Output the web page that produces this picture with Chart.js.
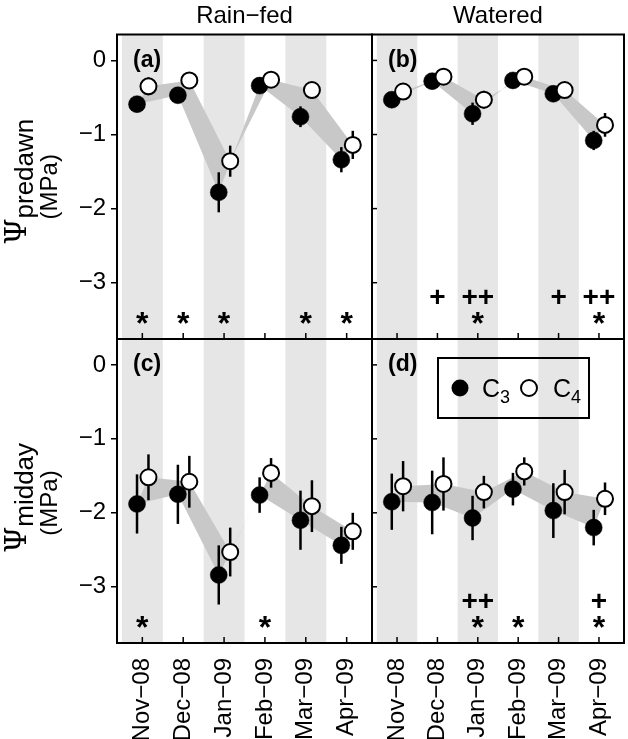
<!DOCTYPE html>
<html>
<head>
<meta charset="utf-8">
<script src="https://cdn.jsdelivr.net/npm/chart.js@4.4.1/dist/chart.umd.min.js"></script>
<style>
  html, body { margin: 0; padding: 0; background: #fff; }
  #wrap { position: relative; width: 628px; height: 739px; overflow: hidden; }
  #wrap canvas { position: absolute; }
</style>
</head>
<body>
<div id="wrap">
  <canvas id="panelA" width="377" height="344" style="left:0;top:0"></canvas>
  <canvas id="panelB" width="261" height="344" style="left:367px;top:0"></canvas>
  <canvas id="panelC" width="377" height="405" style="left:0;top:334px"></canvas>
  <canvas id="panelD" width="261" height="405" style="left:367px;top:334px"></canvas>
</div>
<script>
// === Data ===
const months = ["Nov−08", "Dec−08", "Jan−09", "Feb−09", "Mar−09", "Apr−09"];
const yTicks = [0, -1, -2, -3];
const shadedMonths = [0, 2, 4];

// (a) predawn, rain-fed
const predawnRainC3 = [-0.59, -0.47, -1.78, -0.34, -0.76, -1.34];
const predawnRainC3Err = [0.10, 0.10, 0.27, 0.05, 0.14, 0.17];
const predawnRainC4 = [-0.35, -0.27, -1.36, -0.26, -0.40, -1.14];
const predawnRainC4Err = [0.12, 0.05, 0.21, 0.05, 0.08, 0.19];
const predawnRainStar = ["*", "*", "*", "", "*", "*"];
const predawnRainPlus = ["", "", "", "", "", ""];

// (b) predawn, watered
const predawnWetC3 = [-0.53, -0.28, -0.72, -0.27, -0.45, -1.08];
const predawnWetC3Err = [0.09, 0.05, 0.15, 0.05, 0.08, 0.13];
const predawnWetC4 = [-0.42, -0.22, -0.53, -0.22, -0.40, -0.87];
const predawnWetC4Err = [0.09, 0.05, 0.12, 0.05, 0.05, 0.16];
const predawnWetStar = ["", "", "*", "", "", "*"];
const predawnWetPlus = ["", "+", "++", "", "+", "++"];

// (c) midday, rain-fed
const middayRainC3 = [-1.88, -1.75, -2.84, -1.76, -2.10, -2.44];
const middayRainC3Err = [0.40, 0.40, 0.40, 0.24, 0.40, 0.25];
const middayRainC4 = [-1.52, -1.58, -2.53, -1.46, -1.91, -2.25];
const middayRainC4Err = [0.31, 0.35, 0.33, 0.20, 0.35, 0.25];
const middayRainStar = ["*", "", "", "*", "", ""];
const middayRainPlus = ["", "", "", "", "", ""];

// (d) midday, watered
const middayWetC3 = [-1.85, -1.86, -2.07, -1.68, -1.97, -2.20];
const middayWetC3Err = [0.38, 0.43, 0.30, 0.22, 0.37, 0.24];
const middayWetC4 = [-1.64, -1.61, -1.72, -1.44, -1.72, -1.81];
const middayWetC4Err = [0.34, 0.36, 0.22, 0.19, 0.30, 0.22];
const middayWetStar = ["", "", "*", "*", "", "*"];
const middayWetPlus = ["", "", "++", "", "", "+"];

const FONT = "'Liberation Sans', Arial, Helvetica, sans-serif";
const SERIF = "'DejaVu Serif', 'Liberation Serif', serif";
const C3_SHIFT = -0.13;
const C4_SHIFT = 0.15;

Chart.defaults.font.family = FONT;
Chart.defaults.color = "#000";

// === Drawing helpers (plugin) ===
function drawSubText(ctx, x, y, main, sub, mainFont, subFont, drop) {
  ctx.font = mainFont;
  ctx.fillText(main, x, y);
  const w = ctx.measureText(main).width;
  ctx.font = subFont;
  ctx.fillText(sub, x + w, y + drop);
}

// scales must not push the plot area in: every panel has fixed edges
function noScalePadding(s) {
  s.paddingLeft = 0;
  s.paddingRight = 0;
  s.paddingTop = 0;
  s.paddingBottom = 0;
}

const panelDecor = {
  id: "panelDecor",
  beforeDatasetsDraw(chart, args, opts) {
    const { ctx, chartArea: a, scales: { x } } = chart;
    ctx.save();
    ctx.fillStyle = "#e6e6e6";
    shadedMonths.forEach((i) => {
      const l = Math.max(x.getPixelForValue(i - 0.5), a.left);
      const r = Math.min(x.getPixelForValue(i + 0.5), a.right);
      ctx.fillRect(l, a.top, r - l, a.bottom - a.top);
    });
    ctx.restore();
  },
  afterDatasetDraw(chart, args) {
    // error bars go on top of the grey ribbon, under the points
    if (args.index !== 2) return;
    const { ctx, scales: { x, y } } = chart;
    ctx.save();
    ctx.strokeStyle = "#000";
    ctx.lineWidth = 2.5;
    [0, 1].forEach((di) => {
      const ds = chart.data.datasets[di];
      ds.data.forEach((p, i) => {
        const px = x.getPixelForValue(p.x);
        ctx.beginPath();
        ctx.moveTo(px, y.getPixelForValue(p.y + ds.err[i]));
        ctx.lineTo(px, y.getPixelForValue(p.y - ds.err[i]));
        ctx.stroke();
      });
    });
    ctx.restore();
  },
  afterDraw(chart, args, opts) {
    const { ctx, chartArea: a, scales: { x, y } } = chart;
    ctx.save();
    ctx.strokeStyle = "#000";
    ctx.fillStyle = "#000";

    // inward ticks
    ctx.lineWidth = 1.5;
    months.forEach((m, i) => {
      const px = x.getPixelForValue(i);
      ctx.beginPath();
      ctx.moveTo(px, a.bottom);
      ctx.lineTo(px, a.bottom - 6);
      ctx.stroke();
    });
    if (!opts.yLabels) {
      yTicks.forEach((v) => {
        const py = y.getPixelForValue(v);
        ctx.beginPath();
        ctx.moveTo(a.left, py);
        ctx.lineTo(a.left + 5, py);
        ctx.stroke();
      });
    }

    // frame
    ctx.lineWidth = 2;
    ctx.strokeRect(a.left, a.top, a.right - a.left, a.bottom - a.top);

    // panel letter
    ctx.font = "bold 23px " + FONT;
    ctx.textAlign = "left";
    ctx.textBaseline = "middle";
    ctx.fillText(opts.letter, a.left + 16, a.top + 26);

    // significance marks
    ctx.textAlign = "center";
    ctx.textBaseline = "alphabetic";
    ctx.font = "bold 32px " + FONT;
    opts.star.forEach((s, i) => {
      if (!s) return;
      ctx.fillText(s, x.getPixelForValue(i), y.getPixelForValue(-3.45) + 18);
    });
    ctx.font = "bold 28px " + FONT;
    opts.plus.forEach((s, i) => {
      if (!s) return;
      ctx.fillText(s, x.getPixelForValue(i), y.getPixelForValue(-3.18) + 10);
    });

    // legend
    if (opts.legend) {
      const lx = a.left + 66, ly = a.top + 19;
      ctx.lineWidth = 2;
      ctx.strokeRect(lx, ly, 151, 60);
      ctx.beginPath();
      ctx.arc(lx + 22, ly + 30, 8.5, 0, Math.PI * 2);
      ctx.fill();
      ctx.beginPath();
      ctx.fillStyle = "#fff";
      ctx.arc(lx + 91, ly + 30, 8, 0, Math.PI * 2);
      ctx.fill();
      ctx.stroke();
      ctx.fillStyle = "#000";
      ctx.textAlign = "left";
      drawSubText(ctx, lx + 44, ly + 39, "C", "3", "25px " + FONT, "18px " + FONT, 6);
      drawSubText(ctx, lx + 115, ly + 39, "C", "4", "25px " + FONT, "18px " + FONT, 6);
    }

    // y title: Psi with subscript, then (MPa)
    if (opts.yTitle) {
      const cy = (a.top + a.bottom) / 2 + opts.yTitleShift;
      ctx.translate(0, cy);
      ctx.rotate(-Math.PI / 2);
      ctx.textAlign = "left";
      ctx.textBaseline = "alphabetic";
      ctx.font = "30px " + SERIF;
      const w1 = ctx.measureText("Ψ").width;
      ctx.font = "26px " + FONT;
      const w2 = ctx.measureText(opts.yTitle).width;
      drawSubText(ctx, -(w1 + w2) / 2 + 5, 26, "Ψ", opts.yTitle, "30px " + SERIF, "26px " + FONT, 7);
      ctx.font = "24px " + FONT;
      ctx.textAlign = "center";
      ctx.fillText("(MPa)", 0, 57);
    }
    ctx.restore();
  },
};

// === Panel builder ===
function makePanel(id, p) {
  const c3 = p.c3.map((v, i) => ({ x: i + C3_SHIFT, y: v }));
  const c4 = p.c4.map((v, i) => ({ x: i + C4_SHIFT, y: v }));
  const ribbon = c3.concat(c4.slice().reverse());

  new Chart(document.getElementById(id), {
    type: "line",
    data: {
      datasets: [
        {
          label: "C4",
          data: c4,
          err: p.c4Err,
          showLine: false,
          pointRadius: 8,
          pointHoverRadius: 8,
          pointBackgroundColor: "#fff",
          pointBorderColor: "#000",
          pointBorderWidth: 2,
        },
        {
          label: "C3",
          data: c3,
          err: p.c3Err,
          showLine: false,
          pointRadius: 8.5,
          pointHoverRadius: 8.5,
          pointBackgroundColor: "#000",
          pointBorderColor: "#000",
          pointBorderWidth: 0.5,
        },
        {
          label: "ribbon",
          data: ribbon,
          showLine: true,
          fill: "shape",
          tension: 0,
          borderWidth: 0,
          borderColor: "rgba(0,0,0,0)",
          backgroundColor: "#c8c8c8",
          pointRadius: 0,
          pointHoverRadius: 0,
        },
      ],
    },
    options: {
      responsive: false,
      animation: false,
      events: [],
      layout: { padding: p.padding, autoPadding: false },
      scales: {
        x: {
          type: "linear",
          min: -0.62,
          max: 5.62,
          display: p.xLabels,
          afterBuildTicks: (s) => { s.ticks = months.map((m, i) => ({ value: i })); },
          afterFit: (s) => {
            noScalePadding(s);
            if (p.xLabels) s.height = 96;
          },
          grid: { display: false },
          border: { display: false },
          ticks: {
            autoSkip: false,
            minRotation: 90,
            maxRotation: 90,
            padding: 7,
            font: { size: 24 },
            callback: (v) => months[v],
          },
        },
        y: {
          type: "linear",
          min: -3.76,
          max: 0.35,
          display: p.yLabels,
          afterBuildTicks: (s) => { s.ticks = yTicks.map((v) => ({ value: v })); },
          afterFit: (s) => {
            noScalePadding(s);
            if (p.yLabels) s.width = 117;
          },
          grid: { drawOnChartArea: false, drawTicks: true, tickLength: 6, color: "#000", lineWidth: 1.5 },
          border: { display: false },
          ticks: {
            padding: 5,
            font: { size: 24 },
            callback: (v) => (v === 0 ? "0" : "−" + Math.abs(v)),
          },
        },
      },
      plugins: {
        legend: { display: false },
        tooltip: { enabled: false },
        title: {
          display: !!p.title,
          text: p.title,
          fullSize: false,
          color: "#000",
          font: { size: 24, weight: "normal", lineHeight: 1.2 },
          padding: { top: 2, bottom: 3.7 },
        },
        panelDecor: {
          letter: p.letter,
          star: p.star,
          plus: p.plus,
          legend: !!p.legend,
          yLabels: p.yLabels,
          yTitle: p.yTitle,
          yTitleShift: p.yTitleShift || 0,
        },
      },
    },
    plugins: [panelDecor],
  });
}

// === INIT ===
makePanel("panelA", {
  letter: "(a)", title: "Rain−fed", yTitle: "predawn",
  c3: predawnRainC3, c3Err: predawnRainC3Err, c4: predawnRainC4, c4Err: predawnRainC4Err,
  star: predawnRainStar, plus: predawnRainPlus,
  xLabels: false, yLabels: true,
  padding: { top: 0, right: 5, bottom: 5, left: 0 },
});
makePanel("panelB", {
  letter: "(b)", title: "Watered",
  c3: predawnWetC3, c3Err: predawnWetC3Err, c4: predawnWetC4, c4Err: predawnWetC4Err,
  star: predawnWetStar, plus: predawnWetPlus,
  xLabels: false, yLabels: false,
  padding: { top: 0, right: 4, bottom: 5, left: 5 },
});
makePanel("panelC", {
  letter: "(c)", yTitle: "midday", yTitleShift: 12,
  c3: middayRainC3, c3Err: middayRainC3Err, c4: middayRainC4, c4Err: middayRainC4Err,
  star: middayRainStar, plus: middayRainPlus,
  xLabels: true, yLabels: true,
  padding: { top: 5, right: 5, bottom: 0, left: 0 },
});
makePanel("panelD", {
  letter: "(d)", legend: true,
  c3: middayWetC3, c3Err: middayWetC3Err, c4: middayWetC4, c4Err: middayWetC4Err,
  star: middayWetStar, plus: middayWetPlus,
  xLabels: true, yLabels: false,
  padding: { top: 5, right: 4, bottom: 0, left: 5 },
});
</script>
</body>
</html>
